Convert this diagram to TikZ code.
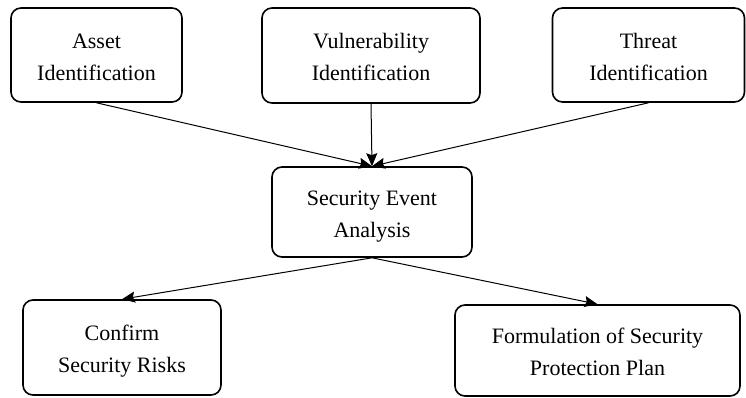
\documentclass[tikz,border=0pt]{standalone}
\usepackage{fontspec}
\setmainfont{Liberation Serif}
\usetikzlibrary{arrows.meta,positioning}
\tikzset{
  >=Stealth,
  box/.style={rectangle, draw, line width=1.6pt, rounded corners=10pt, align=center, inner sep=0pt,
    text height=50pt, text depth=0pt, font=\fontsize{22}{32}\selectfont},
  flow/.style={-{Stealth[length=13pt,width=11pt,inset=2pt]}, line width=1pt}
}
\begin{document}
\begin{tikzpicture}[x=1pt,y=1pt]
    \useasboundingbox (0,0) rectangle (746,-397);
    % identification steps
    \node[box, minimum width=171pt, minimum height=94pt] (asset) at (96.5,-55) {Asset\\Identification};
    \node[box, minimum width=218pt, minimum height=95pt] (vuln) at (371,-55.5) {Vulnerability\\Identification};
    \node[box, minimum width=192pt, minimum height=94pt] (threat) at (648.5,-55) {Threat\\Identification};

    % analysis
    \node[box, minimum width=200pt, minimum height=90pt] (event) at (372,-212) {Security Event\\Analysis};

    % results
    \node[box, minimum width=198pt, minimum height=95pt] (risk) at (122,-347.5) {Confirm\\Security Risks};
    \node[box, minimum width=285pt, minimum height=91pt] (plan) at (597.5,-350.5) {Formulation of Security\\Protection Plan};

    % arrows
    \draw[flow] (asset.south) -- (event.north);
    \draw[flow] (vuln.south) -- (event.north);
    \draw[flow] (threat.south) -- (event.north);
    \draw[flow] (event.south) -- (risk.north);
    \draw[flow] (event.south) -- (plan.north);
\end{tikzpicture}
\end{document}
